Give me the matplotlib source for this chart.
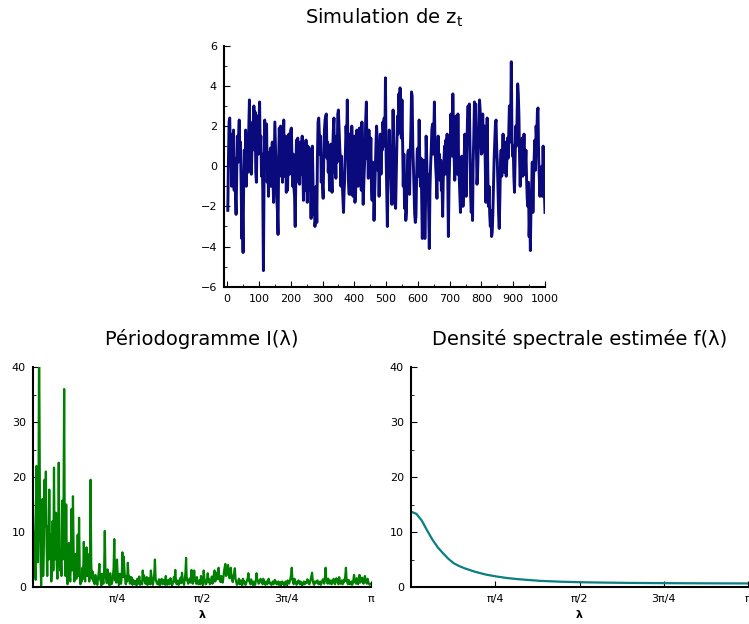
import numpy as np
import matplotlib
matplotlib.use("Agg")
import matplotlib.pyplot as plt
from matplotlib.ticker import MultipleLocator

# ---- simulated series z_t (every 2nd step) ----
z_vals = [
    -2.2, 0.3, 2.2, 2.4, 0.6, 1.4, -1.0, 1.6, -0.4, 1.8,
    -1.2, 0.4, -1.4, -2.4, -0.6, 1.5, 0.2, 1.6, 2.3, 0.5,
    1.2, -1.0, -3.6, -2.0, -4.3, -0.6, 0.8, -0.9, 1.8, -1.0,
    0.5, 1.6, -0.3, 1.9, 3.3, 0.2, 1.4, -0.4, 0.9, 2.2,
    1.1, 3.0, 0.8, 2.7, -0.3, -0.8, 1.4, 2.5, 0.6, 2.1,
    3.2, 0.8, 1.5, -0.5, 0.6, -1.2, -5.2, -0.8, 2.3, 0.9,
    1.9, 2.1, -0.8, 0.4, -1.5, 0.7, -0.4, 0.9, -1.0, 0.6,
    1.2, -0.6, -1.8, 0.3, 2.2, 1.0, 0.0, -1.6, -2.2, -3.4,
    0.4, 1.9, 0.8, 2.0, -0.5, 1.2, -0.8, 1.0, 2.3, -0.5,
    0.8, 1.5, -1.3, 0.2, -1.2, 0.5, 1.6, -0.4, 1.2, 1.8,
    1.9, 0.3, -1.0, 0.6, -1.1, -1.5, -3.0, -0.5, 1.3, 0.4,
    1.4, -0.8, 0.6, -0.9, 1.2, -0.4, 0.5, 1.5, -0.2, -1.7,
    0.3, 1.1, -1.2, 1.3, 0.2, -1.8, 1.0, -0.5, 0.9, -1.2,
    -1.0, -2.6, -0.4, 1.0, -0.6, -2.4, -1.2, -3.0, -2.7, -1.0,
    -2.8, 0.5, 2.2, 2.4, 1.6, 0.6, 1.5, -0.8, 0.4, -1.0,
    -1.6, 0.5, 1.8, 2.3, 2.5, 2.6, 0.4, 1.2, -0.3, 0.6,
    -1.2, 0.3, 1.1, -0.4, -1.3, 0.8, 1.8, 2.4, -0.3, 0.7,
    -0.6, 1.5, 0.2, 2.6, 2.8, 1.9, 1.0, 0.3, -1.0, 0.5,
    -0.8, -1.6, -2.3, -1.2, -0.6, 0.8, 2.0, 1.2, 3.3, 1.0,
    -0.8, -1.4, 1.6, 0.3, -1.4, 2.0, 0.8, -1.5, -0.7, 1.5,
    -1.8, -1.4, 0.4, 1.8, -0.2, -1.0, 1.2, 1.9, 1.7, 0.5,
    -1.2, 2.2, -0.5, -1.9, -0.8, 0.0, 1.0, 2.4, 3.2, 0.4,
    1.2, -0.6, 1.8, 0.5, -0.3, 1.4, -1.0, -1.7, 0.2, -0.6,
    -2.7, -1.4, 0.0, 1.0, 2.0, 1.4, -0.2, 0.9, -1.5, 0.3,
    1.6, -0.4, 1.2, 0.8, 2.2, 1.6, 2.4, 1.0, 4.4, 0.6,
    -1.2, -3.0, -0.8, 0.5, 1.8, -0.4, 1.0, -1.0, -1.9, 0.8,
    2.8, 1.0, -0.6, -1.9, -2.1, -0.3, 1.2, 2.5, 1.6, 3.6,
    2.8, 3.9, 3.1, 1.4, 3.3, 1.0, -1.0, 0.6, -2.1, -1.0,
    -2.7, -2.3, -0.4, 0.6, 0.8, -0.2, -1.4, 0.6, 1.8, 3.7,
    3.5, 1.0, 0.0, -1.2, -2.4, -2.8, -2.5, -0.6, 0.8, 0.9,
    -0.5, 2.3, 0.2, -1.0, 0.4, -1.5, -3.6, -1.2, 0.3, -1.0,
    -3.6, -2.0, 1.5, 0.2, -1.0, -0.4, -2.2, -4.1, -1.2, 0.0,
    0.8, 1.8, 2.1, 0.6, 1.5, 3.2, 1.0, 0.0, -0.6, -1.6,
    0.4, 1.5, -0.2, 0.6, -0.7, 0.3, -1.2, -0.8, -2.5, -0.6,
    0.3, 1.0, -0.4, 1.3, 0.5, 1.6, -0.6, -3.5, -1.0, 0.3,
    1.2, 2.6, 1.0, 0.5, 3.6, 1.5, 0.5, -0.7, 0.8, 2.5,
    1.0, -0.4, 2.6, 0.4, -0.5, -1.4, -2.3, -0.2, 0.5, -0.5,
    -2.0, -1.0, 0.6, 1.6, -0.2, -1.5, 0.5, 2.3, 3.0, 2.0,
    3.1, 1.0, -1.5, -2.3, -1.2, -2.7, 0.2, 1.5, 3.2, 2.0,
    3.1, 1.0, -0.9, -0.3, 0.9, 1.6, 3.3, 2.8, 1.5, 0.6,
    1.4, 2.6, 1.2, 0.7, 2.0, 0.2, -1.8, 0.2, 2.4, -0.3,
    -2.0, -1.0, -2.4, -3.0, -2.2, -3.5, -3.3, -2.3, -1.0, 0.4,
    1.2, 2.1, 2.3, 0.9, 0.2, -1.0, -2.4, -3.1, -1.6, 0.2,
    0.8, -0.5, 0.6, 1.6, 0.2, -0.3, 0.6, 1.2, -0.5, 0.3,
    1.4, 0.4, 1.8, 3.0, 1.2, 2.5, 5.2, 1.5, 0.5, 1.0,
    -0.5, -1.3, 0.4, 2.0, 1.0, 2.3, 4.1, 3.6, 2.5, 0.4,
    -1.0, 1.0, 0.2, 1.4, -0.5, 0.3, 1.6, -0.4, 0.0, 0.8,
    -0.6, -1.6, -2.0, -0.8, -3.5, -2.4, -4.2, -2.0, -1.0, 0.2,
    -2.3, -0.6, 0.5, 1.3, -0.2, 2.0, 1.2, 2.7, 2.9, 0.4,
    -0.5, -1.5, -0.4, -1.4, 0.0, -1.5, 1.0, -0.8, -1.3, -2.3,
]
t_vals = np.arange(2, 1001, 2)

# ---- periodogram I(lambda), Fourier frequencies from 0 to pi ----
periodo = [
    15.8, 10.0, 8.0, 3.0, 1.3, 22.0, 9.0, 4.5, 12.0, 46.0,
    21.0, 6.0, 0.3, 9.0, 16.0, 2.0, 7.5, 19.5, 11.0, 21.0,
    8.0, 2.0, 11.0, 5.0, 17.7, 6.0, 9.5, 1.0, 4.0, 12.0,
    3.0, 21.7, 5.0, 9.0, 13.5, 4.0, 1.5, 6.0, 22.6, 7.0,
    3.0, 6.0, 2.0, 15.7, 5.0, 14.0, 36.0, 6.0, 2.0, 15.0,
    4.0, 0.5, 3.0, 8.0, 2.5, 1.0, 5.0, 14.2, 3.0, 16.5,
    6.0, 1.0, 3.0, 6.0, 1.5, 4.0, 9.5, 2.0, 12.6, 3.0,
    0.5, 2.0, 1.0, 3.5, 1.5, 8.2, 2.5, 1.0, 4.0, 7.2,
    2.0, 6.0, 3.0, 1.0, 2.0, 19.5, 4.0, 1.5, 2.8, 1.0,
    1.2, 0.5, 2.2, 1.4, 0.8, 0.4, 1.6, 2.6, 4.2, 1.5,
    1.0, 0.3, 2.4, 1.2, 0.6, 3.0, 10.2, 2.0, 1.5, 0.7,
    3.2, 1.4, 0.8, 0.3, 2.5, 1.0, 0.5, 0.9, 1.8, 3.5,
    8.7, 1.2, 2.0, 0.8, 5.0, 2.2, 1.0, 0.4, 2.4, 1.0,
    0.6, 2.0, 6.3, 1.8, 5.5, 3.0, 1.5, 0.5, 2.0, 1.0,
    4.4, 1.6, 2.0, 0.6, 0.9, 1.8, 1.6, 0.4, 1.3, 0.8,
    0.5, 1.1, 0.8, 0.3, 1.5, 0.6, 1.2, 1.9, 0.4, 0.9,
    1.0, 0.5, 3.0, 1.4, 2.1, 0.8, 0.6, 1.2, 1.8, 0.4,
    0.9, 1.6, 1.4, 0.5, 3.0, 1.9, 0.7, 0.4, 1.2, 2.2,
    5.0, 1.5, 1.0, 0.6, 0.5, 0.9, 1.4, 0.3, 0.8, 1.1,
    1.5, 0.5, 0.6, 1.3, 1.1, 0.4, 2.0, 0.9, 0.4, 0.8,
    1.3, 0.5, 0.7, 1.6, 1.0, 0.3, 0.5, 0.9, 1.8, 1.0,
    3.1, 1.2, 0.5, 0.8, 1.2, 0.4, 0.6, 1.1, 1.7, 0.7,
    2.6, 1.1, 0.9, 0.4, 1.4, 2.5, 5.3, 1.2, 1.5, 0.6,
    0.8, 1.2, 1.6, 0.8, 3.1, 1.4, 0.6, 1.8, 3.0, 1.1,
    1.0, 0.6, 1.8, 1.0, 0.5, 0.8, 1.2, 0.5, 2.0, 1.3,
    0.8, 0.4, 3.0, 1.5, 1.1, 0.5, 0.6, 1.4, 2.5, 1.0,
    1.4, 0.5, 0.7, 1.2, 1.9, 0.6, 0.9, 2.2, 3.0, 1.0,
    1.5, 2.6, 2.2, 1.4, 3.5, 1.8, 1.3, 0.9, 2.0, 1.2,
    0.8, 1.6, 2.8, 3.6, 4.2, 2.0, 2.5, 3.2, 4.0, 2.1,
    1.6, 2.4, 3.5, 1.8, 1.2, 0.9, 2.0, 2.6, 3.4, 1.5,
    1.0, 0.4, 0.6, 1.0, 1.5, 0.5, 0.8, 1.2, 0.5, 0.3,
    1.5, 0.9, 1.0, 0.5, 0.4, 0.8, 1.2, 1.6, 2.5, 1.1,
    0.8, 0.5, 1.4, 1.0, 0.6, 0.3, 1.0, 0.7, 0.4, 1.1,
    2.5, 1.4, 1.2, 0.6, 0.7, 1.0, 1.5, 1.1, 0.9, 0.5,
    1.5, 0.9, 0.6, 0.4, 1.0, 0.8, 0.5, 1.2, 1.5, 0.7,
    0.8, 0.5, 0.4, 0.7, 1.0, 0.5, 0.7, 1.3, 1.1, 0.6,
    0.5, 0.8, 1.0, 0.4, 0.6, 0.9, 0.3, 0.5, 1.0, 0.7,
    0.5, 0.3, 0.8, 1.0, 0.4, 0.6, 1.2, 0.8, 0.6, 1.0,
    1.5, 2.2, 3.5, 1.4, 0.8, 0.5, 1.5, 1.0, 1.0, 0.4,
    0.6, 0.9, 1.2, 0.7, 0.5, 1.0, 0.7, 0.3, 0.4, 0.8,
    1.0, 0.5, 0.6, 0.9, 0.8, 1.4, 1.2, 0.6, 0.5, 0.9,
    1.4, 2.0, 2.6, 1.2, 0.6, 0.4, 1.0, 0.7, 0.8, 1.1,
    1.2, 0.6, 0.5, 0.8, 1.0, 0.4, 0.7, 1.1, 1.4, 0.9,
    0.6, 1.8, 3.5, 1.2, 1.0, 0.6, 1.5, 0.8, 0.6, 1.0,
    1.2, 0.5, 0.8, 1.1, 1.5, 0.7, 0.5, 1.0, 1.6, 1.2,
    0.9, 0.5, 1.8, 1.0, 0.6, 0.9, 1.2, 0.5, 0.7, 1.3,
    1.0, 2.0, 3.5, 1.2, 0.8, 0.5, 1.3, 0.9, 0.5, 0.7,
    1.0, 0.4, 0.6, 1.3, 2.2, 1.0, 0.8, 0.6, 1.6, 0.9,
    0.5, 1.2, 2.2, 0.8, 1.0, 1.4, 1.7, 0.9, 0.6, 1.2,
    2.0, 1.1, 0.8, 0.6, 1.5, 0.9, 0.6, 0.4, 0.5, 0.6,
]
lam_p = np.linspace(0, np.pi, len(periodo))

# ---- estimated spectral density f(lambda) ----
lam_f = [0.0, 0.05, 0.10, 0.15, 0.20, 0.25, 0.30, 0.35, 0.40, 0.45, 0.50,
         0.60, 0.70, 0.80, 0.90, 1.0, 1.2, 1.4, 1.6, 1.8, 2.0, 2.3, 2.6,
         2.9, np.pi]
dens = [13.7, 13.3, 12.1, 10.3, 8.6, 7.2, 6.1, 5.1, 4.3, 3.8, 3.4,
        2.75, 2.25, 1.9, 1.62, 1.42, 1.12, 0.96, 0.86, 0.8, 0.75, 0.71, 0.68,
        0.66, 0.65]

pi_ticks = [np.pi / 4, np.pi / 2, 3 * np.pi / 4, np.pi]
pi_labels = ["π/4", "π/2", "3π/4", "π"]

W, H = 749, 624
fig = plt.figure(figsize=(W / 100, H / 100), dpi=100)


def style(ax):
    for s in ["top", "right"]:
        ax.spines[s].set_visible(False)
    for s in ["left", "bottom"]:
        ax.spines[s].set_linewidth(1.5)
    ax.tick_params(which="major", direction="in", length=4, width=0.8,
                   labelsize=8, pad=5)
    ax.tick_params(which="minor", direction="in", length=2.5, width=0.6)


# top: simulation
ax1 = fig.add_axes([224 / W, 1 - 286.7 / H, 321 / W, 241 / H])
ax1.plot(t_vals, z_vals, color="#0a0a7d", lw=2.1)
ax1.set_xlim(-10, 1000)
ax1.set_ylim(-6, 6)
ax1.xaxis.set_major_locator(MultipleLocator(100))
ax1.xaxis.set_minor_locator(MultipleLocator(50))
ax1.yaxis.set_major_locator(MultipleLocator(2))
ax1.yaxis.set_minor_locator(MultipleLocator(1))
style(ax1)
ax1.set_title(r"Simulation de $\mathrm{z}_{\mathrm{t}}$", fontsize=14, pad=16)

# bottom left: periodogram
ax2 = fig.add_axes([33 / W, 1 - 587 / H, 338 / W, 220 / H])
ax2.plot(lam_p, periodo, color="#008000", lw=1.6)
ax2.set_xlim(0, np.pi)
ax2.set_ylim(0, 40)

# bottom right: spectral density
ax3 = fig.add_axes([411 / W, 1 - 587 / H, 337 / W, 220 / H])
ax3.plot(lam_f, dens, color="#0a7f7f", lw=1.6)
ax3.set_xlim(0, np.pi)
ax3.set_ylim(0, 40)

for ax, title in [(ax2, "Périodogramme I(λ)"),
                  (ax3, "Densité spectrale estimée f(λ)")]:
    ax.set_xticks(pi_ticks)
    ax.set_xticklabels(pi_labels)
    ax.yaxis.set_major_locator(MultipleLocator(10))
    ax.yaxis.set_minor_locator(MultipleLocator(5))
    style(ax)
    ax.set_xlabel("λ", fontsize=8, fontweight="bold", labelpad=4)
    ax.set_title(title, fontsize=14, pad=16)

fig.savefig("out.png", dpi=100)
